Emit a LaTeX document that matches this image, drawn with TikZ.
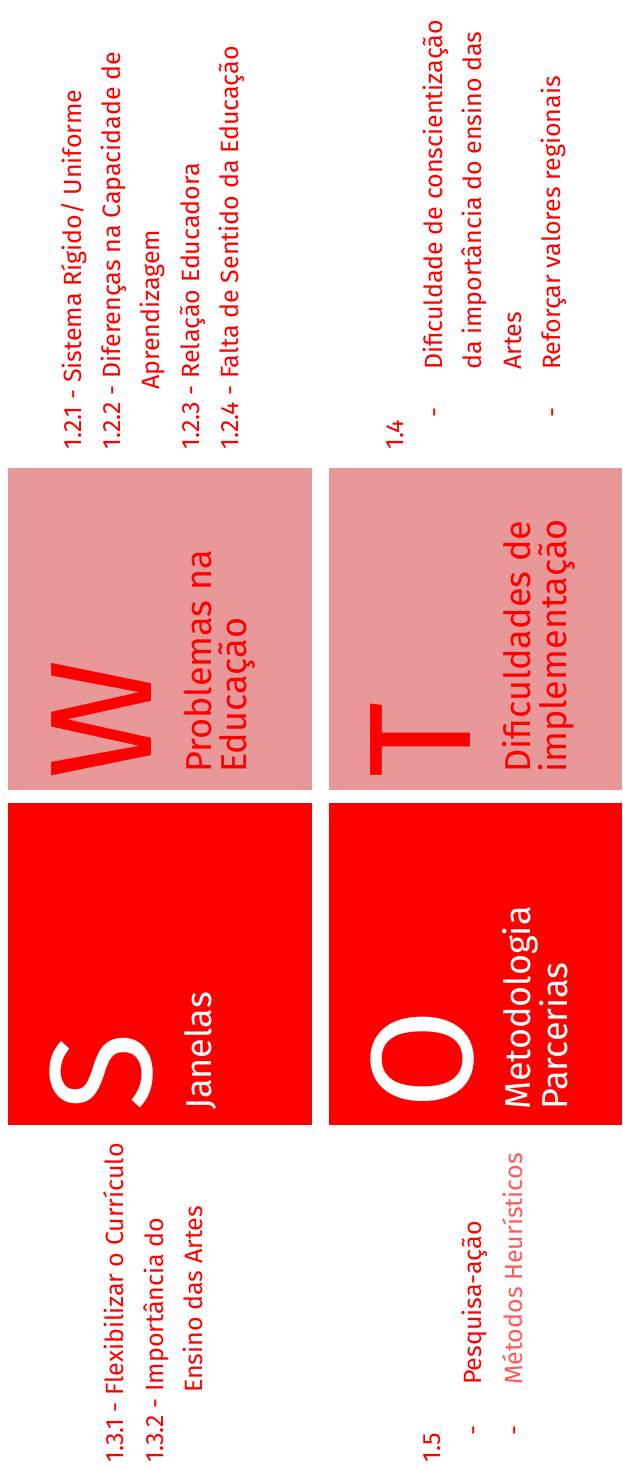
\documentclass[tikz,border=0pt]{standalone}
\usepackage{fontspec}
\setmainfont{Fira Sans}
\usetikzlibrary{positioning}
\definecolor{Vermelho}{HTML}{FF0000}
\definecolor{Rosa}{HTML}{E89899}
\definecolor{RosaTexto}{HTML}{FF5A5A}
\tikzset{
  quadro/.style={draw=none,inner sep=0pt,outer sep=0pt,anchor=north west},
  letra/.style={rotate=90,anchor=base west,inner sep=0pt,font=\fontsize{145}{145}\selectfont},
  titulo/.style={rotate=90,anchor=base west,inner sep=0pt,font=\fontsize{36}{38}\selectfont},
  item/.style={rotate=90,anchor=base west,inner sep=0pt,text=Vermelho,font=\fontsize{25}{30}\selectfont}
}

\begin{document}
\begin{tikzpicture}[x=1pt,y=-1pt]
  \useasboundingbox (0,0) rectangle (622,1468);
  % quadros SWOT
  \node[quadro,fill=Rosa,minimum width=304pt,minimum height=322pt] (W) at (8,468) {};
  \node[quadro,fill=Rosa,minimum width=293pt,minimum height=322pt] (T) at (329,468) {};
  \node[quadro,fill=Vermelho,minimum width=304pt,minimum height=322pt] (S) at (8,803) {};
  \node[quadro,fill=Vermelho,minimum width=293pt,minimum height=322pt] (O) at (329,803) {};
  % letras e titulos
  \node[letra,text=Vermelho] (letraW) at (151,780) {W};
  \node[titulo,text=Vermelho] (tituloW1) at (211,773) {Problemas na};
  \node[titulo,text=Vermelho] (tituloW2) at (246,773) {Educação};
  \node[letra,text=Vermelho] (letraT) at (470,778) {T};
  \node[titulo,text=Vermelho] (tituloT1) at (530,773) {Dificuldades de};
  \node[titulo,text=Vermelho] (tituloT2) at (566,773) {implementação};
  \node[letra,text=white] (letraS) at (151,1112) {S};
  \node[titulo,text=white] (tituloS1) at (211,1110) {Janelas};
  \node[letra,text=white] (letraO) at (472,1110) {O};
  \node[titulo,text=white] (tituloO1) at (530,1110) {Metodologia};
  \node[titulo,text=white] (tituloO2) at (567,1110) {Parcerias};
  % fraquezas
  \node[item] (w1) at (81,450) {1.2.1 - Sistema Rígido/ Uniforme};
  \node[item] (w2) at (120,450) {1.2.2 - Diferenças na Capacidade de};
  \node[item] (w3) at (159,390) {Aprendizagem};
  \node[item] (w4) at (199,450) {1.2.3 - Relação Educadora};
  \node[item] (w5) at (238,450) {1.2.4 - Falta de Sentido da Educação};
  % ameacas
  \node[item] (t0) at (403,450) {1.4};
  \node[item] (t1d) at (442,418) {-};
  \node[item] (t1) at (442,370) {Dificuldade de conscientização};
  \node[item] (t2) at (481,370) {da importância do ensino das};
  \node[item] (t3) at (521,370) {Artes};
  \node[item] (t4d) at (560,418) {-};
  \node[item] (t4) at (560,370) {Reforçar valores regionais};
  % forcas
  \node[item] (s1) at (123,1463) {1.3.1 - Flexibilizar o Currículo};
  \node[item] (s2) at (163,1463) {1.3.2 - Importância do};
  \node[item] (s3) at (202,1393) {Ensino das Artes};
  % oportunidades
  \node[item] (o0) at (440,1463) {1.5};
  \node[item] (o1d) at (481,1436) {-};
  \node[item] (o1) at (481,1385) {Pesquisa-ação};
  \node[item] (o2d) at (522,1436) {-};
  \node[item,text=RosaTexto] (o2) at (522,1385) {Métodos Heurísticos};
\end{tikzpicture}
\end{document}
